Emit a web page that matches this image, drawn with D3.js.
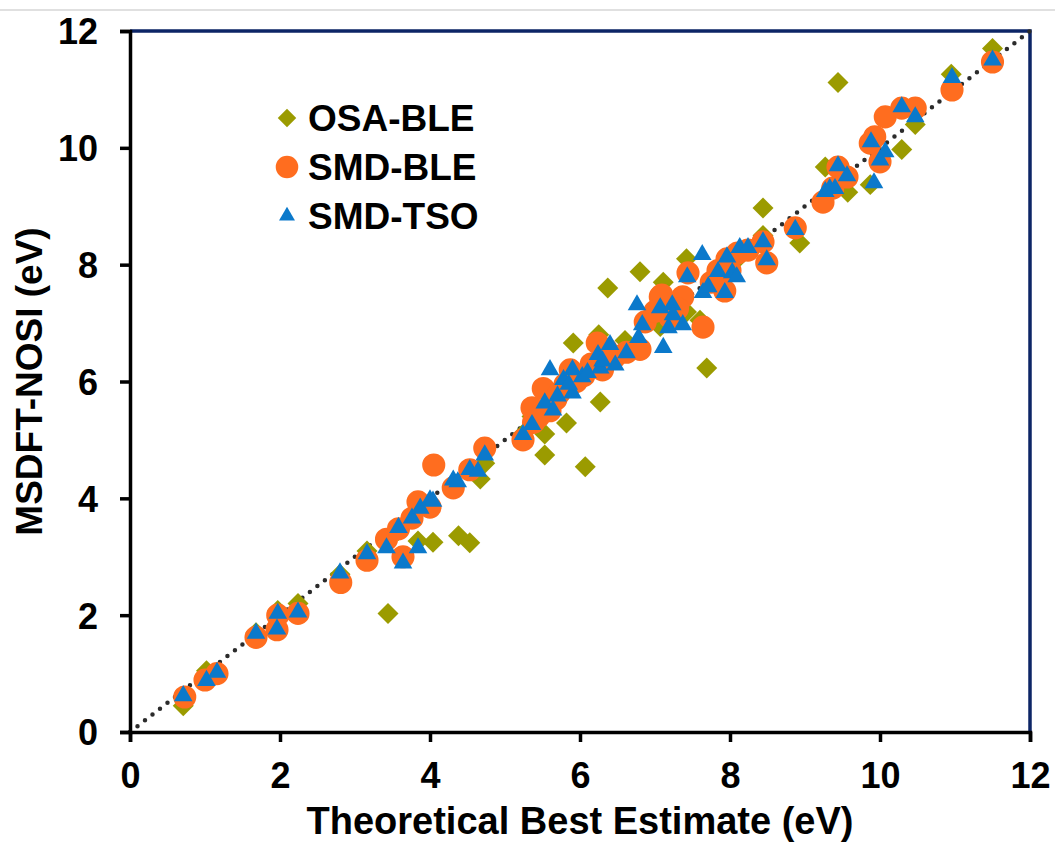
<!DOCTYPE html>
<html>
<head>
<meta charset="utf-8">
<script src="https://cdn.jsdelivr.net/npm/d3@7"></script>
<style>
  body { margin: 0; background: #fff; }
  svg { display: block; font-family: Arial, "Liberation Sans", sans-serif; }
</style>
</head>
<body>
<div id="chart"></div>
<script>
// series data: [theoretical best estimate, MSDFT-NOSI] in eV
var osaBle = [
  [0.71,0.45],[1.02,1.05],[1.16,1.0],[1.68,1.7],[1.97,2.08],[2.24,2.2],[2.8,2.7],[3.16,3.1],
  [3.44,2.03],[3.58,3.45],[3.84,3.27],[4.04,3.25],[4.31,4.25],[4.38,3.36],[4.53,3.24],[4.67,4.33],
  [4.73,4.6],[5.24,5.1],[5.36,5.4],[5.53,4.74],[5.53,5.1],[5.64,5.6],[5.82,5.29],[5.91,6.66],
  [6.0,6.0],[6.07,4.54],[6.25,6.8],[6.27,5.65],[6.37,7.6],[6.5,6.45],[6.8,7.88],[7.07,6.94],
  [7.11,7.7],[7.42,8.1],[7.42,7.19],[7.6,7.05],[7.69,6.23],[7.9,7.8],[8.1,8.1],[8.44,8.97],
  [8.44,8.5],[8.93,8.37],[9.27,9.67],[9.44,11.12],[9.57,9.24],[9.87,9.37],[10.29,9.97],
  [10.47,10.4],[10.95,11.26],[11.5,11.7],[5.75,5.9],[6.6,6.7],[7.3,7.35]
]
var smdBle = [
  [0.73,0.6],[1.0,0.89],[1.16,1.0],[1.68,1.62],[1.96,1.75],[1.97,2.0],[2.24,2.03],[2.81,2.56],
  [3.16,2.94],[3.42,3.3],[3.58,3.48],[3.64,3.0],[3.76,3.66],[3.84,3.94],[4.0,3.85],[4.05,4.57],
  [4.31,4.18],[4.53,4.49],[4.73,4.86],[5.24,5.0],[5.36,5.55],[5.38,5.3],[5.51,5.88],[5.6,5.5],
  [5.68,5.7],[5.8,5.95],[5.87,6.2],[5.95,6.0],[6.05,6.1],[6.23,6.66],[6.3,6.2],[6.45,6.4],
  [6.62,6.5],[6.8,6.55],[6.87,7.02],[7.07,7.45],[7.09,7.48],[7.2,7.1],[7.37,7.45],[7.44,7.86],
  [7.64,6.93],[7.84,7.9],[7.93,7.55],[7.96,8.1],[8.0,7.9],[8.1,8.2],[8.24,8.25],[8.44,8.39],
  [8.49,8.03],[8.87,8.63],[9.24,9.07],[9.37,9.31],[9.44,9.67],[9.56,9.5],[9.87,10.08],
  [9.93,10.19],[10.0,9.76],[10.07,10.53],[10.29,10.68],[10.47,10.68],[10.96,10.99],[11.5,11.47],
  [5.45,5.4],[5.72,5.8],[6.15,6.3],[6.35,6.55],[7.0,7.2],[7.3,7.25],[7.75,7.7]
]
var smdTso = [
  [0.71,0.62],[1.02,0.88],[1.16,1.02],[1.68,1.69],[1.96,1.76],[1.97,2.03],[2.24,2.05],[2.8,2.72],
  [3.16,3.05],[3.42,3.15],[3.58,3.5],[3.64,2.89],[3.76,3.66],[3.84,3.15],[3.87,3.83],[4.0,3.97],
  [4.04,3.95],[4.31,4.31],[4.37,4.28],[4.53,4.49],[4.64,4.46],[4.73,4.74],[5.24,5.09],[5.36,5.26],
  [5.53,5.63],[5.6,6.2],[5.64,5.51],[5.78,6.03],[5.9,5.8],[5.9,6.2],[6.03,6.08],[6.24,6.46],
  [6.27,6.23],[6.4,6.63],[6.47,6.28],[6.62,6.49],[6.76,7.31],[6.78,6.75],[6.83,6.97],[7.07,7.26],
  [7.11,6.58],[7.18,6.92],[7.23,7.31],[7.24,7.14],[7.37,6.97],[7.43,7.79],[7.63,8.17],[7.64,7.52],
  [7.71,7.62],[7.84,7.88],[7.93,7.52],[7.96,8.13],[8.03,7.86],[8.09,7.79],[8.13,8.29],[8.24,8.29],
  [8.44,8.39],[8.49,8.08],[8.87,8.6],[9.27,9.25],[9.33,9.3],[9.4,9.3],[9.44,9.69],[9.56,9.52],
  [9.88,10.1],[9.92,9.4],[10.0,9.79],[10.07,9.93],[10.29,10.7],[10.47,10.53],[10.96,11.2],[11.5,11.5],
  [5.7,5.75],[5.85,5.95],[6.1,6.15],[6.3,6.35]
]
var seriesNames = ['OSA-BLE', 'SMD-BLE', 'SMD-TSO']
var axisTicks = [0, 2, 4, 6, 8, 10, 12]
var diagonal = [[0, 0], [12, 12]]

var width = 1055, height = 842
var plot = {left: 130, right: 1030, top: 31, bottom: 732}
var colors = ['#9b9b00', '#ff6d1f', '#0b79cb']

var svg = d3.select('#chart').append('svg')
  .attr('width', width)
  .attr('height', height)

// thin grey rule at the very top of the screenshot
svg.append('line')
  .attr('x1', 0).attr('x2', width)
  .attr('y1', 10).attr('y2', 10)
  .attr('stroke', '#d6d6d6').attr('stroke-width', 1.5)

var x = d3.scaleLinear().domain([0, 12]).range([plot.left, plot.right])
var y = d3.scaleLinear().domain([0, 12]).range([plot.bottom, plot.top])

// navy frame (top + right)
svg.append('path')
  .attr('d', 'M' + plot.left + ',' + plot.top + 'H' + plot.right + 'V' + plot.bottom)
  .attr('fill', 'none')
  .attr('stroke', '#0c2566')
  .attr('stroke-width', 3.5)

// y = x dotted line
svg.append('line')
  .attr('x1', x(diagonal[0][0])).attr('y1', y(diagonal[0][1]))
  .attr('x2', x(diagonal[1][0])).attr('y2', y(diagonal[1][1]))
  .attr('stroke', '#2b2b2b')
  .attr('stroke-width', 4.5)
  .attr('stroke-linecap', 'round')
  .attr('stroke-dasharray', '0 9.5')

var symbols = [
  d3.symbol().type(d3.symbolSquare).size(220),
  d3.symbol().type(d3.symbolCircle).size(420),
  d3.symbol().type(d3.symbolTriangle).size(150)
]
var rotations = [45, 0, 0]

;[osaBle, smdBle, smdTso].forEach(function(data, i) {
  svg.append('g')
    .selectAll('path')
    .data(data)
    .enter()
    .append('path')
    .attr('d', symbols[i])
    .attr('transform', d => 'translate(' + x(d[0]) + ',' + y(d[1]) + ') rotate(' + rotations[i] + ')')
    .attr('fill', colors[i])
})

var xAxis = d3.axisBottom(x).tickValues(axisTicks).tickSize(10).tickPadding(20)
var yAxis = d3.axisLeft(y).tickValues(axisTicks).tickSize(10).tickPadding(22)

var gx = svg.append('g')
  .attr('transform', 'translate(0,' + plot.bottom + ')')
  .call(xAxis)
var gy = svg.append('g')
  .attr('transform', 'translate(' + plot.left + ',0)')
  .call(yAxis)

;[gx, gy].forEach(function(g) {
  g.select('.domain').attr('stroke', '#000').attr('stroke-width', 3.5)
  g.selectAll('.tick line').attr('stroke', '#000').attr('stroke-width', 3.5)
  g.selectAll('.tick text')
    .attr('fill', '#000')
    .style('font-size', '36px')
    .style('font-weight', 'bold')
    .style('font-family', 'Arial, "Liberation Sans", sans-serif')
})
gy.selectAll('.tick text').attr('dy', '0.36em')

svg.append('text')
  .attr('x', (plot.left + plot.right) / 2)
  .attr('y', 834)
  .attr('text-anchor', 'middle')
  .style('font-size', '38px')
  .style('font-weight', 'bold')
  .text('Theoretical Best Estimate (eV)')

svg.append('text')
  .attr('transform', 'translate(42,' + (plot.top + plot.bottom) / 2 + ') rotate(-90)')
  .attr('text-anchor', 'middle')
  .style('font-size', '37px')
  .style('font-weight', 'bold')
  .text('MSDFT-NOSI (eV)')

// legend
var legend = svg.selectAll('.legend')
  .data(seriesNames)
  .enter().append('g')
  .attr('class', 'legend')
  .attr('transform', (d, i) => 'translate(287,' + (118 + i * 49) + ')')

legend.append('path')
  .attr('d', (d, i) => d3.symbol().type([d3.symbolSquare, d3.symbolCircle, d3.symbolTriangle][i])
    .size([170, 400, 110][i])())
  .attr('transform', (d, i) => 'rotate(' + rotations[i] + ')')
  .attr('fill', (d, i) => colors[i])

legend.append('text')
  .attr('x', 21)
  .attr('dy', '0.36em')
  .style('font-size', '37px')
  .style('font-weight', 'bold')
  .text(d => d)
</script>
</body>
</html>
